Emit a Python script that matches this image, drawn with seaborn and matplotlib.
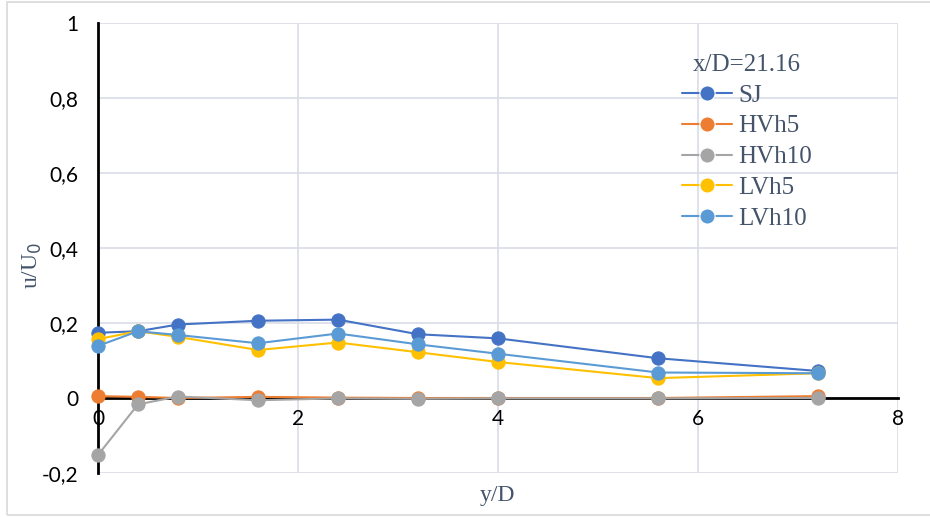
import numpy as np
import pandas as pd
import matplotlib
matplotlib.use("Agg")
import matplotlib.pyplot as plt
from matplotlib.patches import Rectangle
import seaborn as sns

# Radial positions and normalized axial velocity profiles at x/D = 21.16
y_over_d = [0.0, 0.4, 0.8, 1.6, 2.4, 3.2, 4.0, 5.6, 7.2]
sj     = [0.174, 0.178, 0.196, 0.206, 0.209, 0.170, 0.159, 0.106, 0.072]
hvh5   = [0.005, 0.003, 0.000, 0.003, 0.001, 0.000, 0.000, 0.000, 0.005]
hvh10  = [-0.152, -0.017, 0.004, -0.006, -0.001, -0.002, -0.001, -0.001, 0.000]
lvh5   = [0.157, 0.178, 0.163, 0.128, 0.148, 0.122, 0.096, 0.053, 0.066]
lvh10  = [0.139, 0.178, 0.168, 0.146, 0.172, 0.143, 0.118, 0.068, 0.066]

series_names = ["SJ", "HVh5", "HVh10", "LVh5", "LVh10"]
series_vals = [sj, hvh5, hvh10, lvh5, lvh10]
colors = ["#4472C4", "#ED7D31", "#A5A5A5", "#FFC000", "#5B9BD5"]

x_ticks = [0, 2, 4, 6, 8]
y_ticks = [-0.2, 0, 0.2, 0.4, 0.6, 0.8, 1.0]
y_tick_labels = ["-0,2", "0", "0,2", "0,4", "0,6", "0,8", "1"]

df = pd.concat(
    [pd.DataFrame({"y/D": y_over_d, "u": v, "series": n})
     for n, v in zip(series_names, series_vals)],
    ignore_index=True,
)

sns.set_theme(style="white")
plt.rcParams["font.family"] = ["Lato", "DejaVu Sans"]

fig = plt.figure(figsize=(9.3, 5.17), dpi=100)
ax = fig.add_axes([98 / 930, 1 - 473 / 517, 800 / 930, 450 / 517])

# Chart-area border
fig.patches.append(Rectangle((7 / 930, 2 / 517), 930 / 930, 513 / 517,
                             transform=fig.transFigure, fill=False,
                             edgecolor="#D9D9D9", linewidth=1.2, zorder=0))

sns.lineplot(data=df, x="y/D", y="u", hue="series", hue_order=series_names,
             palette=colors, marker="o", markersize=9.5, markeredgewidth=0.8,
             linewidth=1.5, ax=ax, sort=False, estimator=None)
for line, c in zip(ax.lines, colors):
    line.set_markeredgecolor(c)
    line.set_clip_on(False)
    line.set_zorder(3)

ax.set_xlim(0, 8)
ax.set_ylim(-0.2, 1.0)
ax.set_xticks(x_ticks)
ax.set_xticklabels([str(t) for t in x_ticks])
ax.set_yticks(y_ticks)
ax.set_yticklabels(y_tick_labels)
ax.tick_params(axis="both", labelsize=15, colors="black", length=0)
ax.tick_params(axis="y", pad=14)
ax.tick_params(axis="x", pad=8)

ax.grid(True, color="#D9DDE6", linewidth=1.2)
ax.set_axisbelow(True)

for s in ["top", "right"]:
    ax.spines[s].set_visible(False)
ax.spines["left"].set_color("black")
ax.spines["left"].set_linewidth(2)
ax.spines["bottom"].set_position(("data", 0))
ax.spines["bottom"].set_color("black")
ax.spines["bottom"].set_linewidth(2)
ax.spines["bottom"].set_zorder(1)

serif = ["Liberation Serif", "DejaVu Serif"]
text_col = "#44546A"
ax.set_xlabel("")
ax.set_ylabel("")
fig.text(497 / 930, 1 - 495 / 517, "y/D", ha="center", va="center",
         fontsize=17, family=serif, color=text_col)
fig.text(32 / 930, 1 - 265 / 517, r"u/U$_0$", ha="center", va="center",
         rotation=90, fontsize=17, family=serif, color=text_col)

handles, labels = ax.get_legend_handles_labels()
leg = ax.legend(handles, labels, title="x/D=21.16", frameon=False,
                loc="upper left", bbox_to_anchor=(672 / 930, 1 - 44 / 517),
                bbox_transform=fig.transFigure,
                prop={"family": serif, "size": 18},
                title_fontproperties={"family": serif, "size": 18},
                handlelength=2.0, handletextpad=0.25, labelspacing=0.33,
                borderaxespad=0, markerscale=1.15)
for t in leg.get_texts():
    t.set_color(text_col)
leg.get_title().set_color(text_col)

fig.savefig("out.png", dpi=100)
